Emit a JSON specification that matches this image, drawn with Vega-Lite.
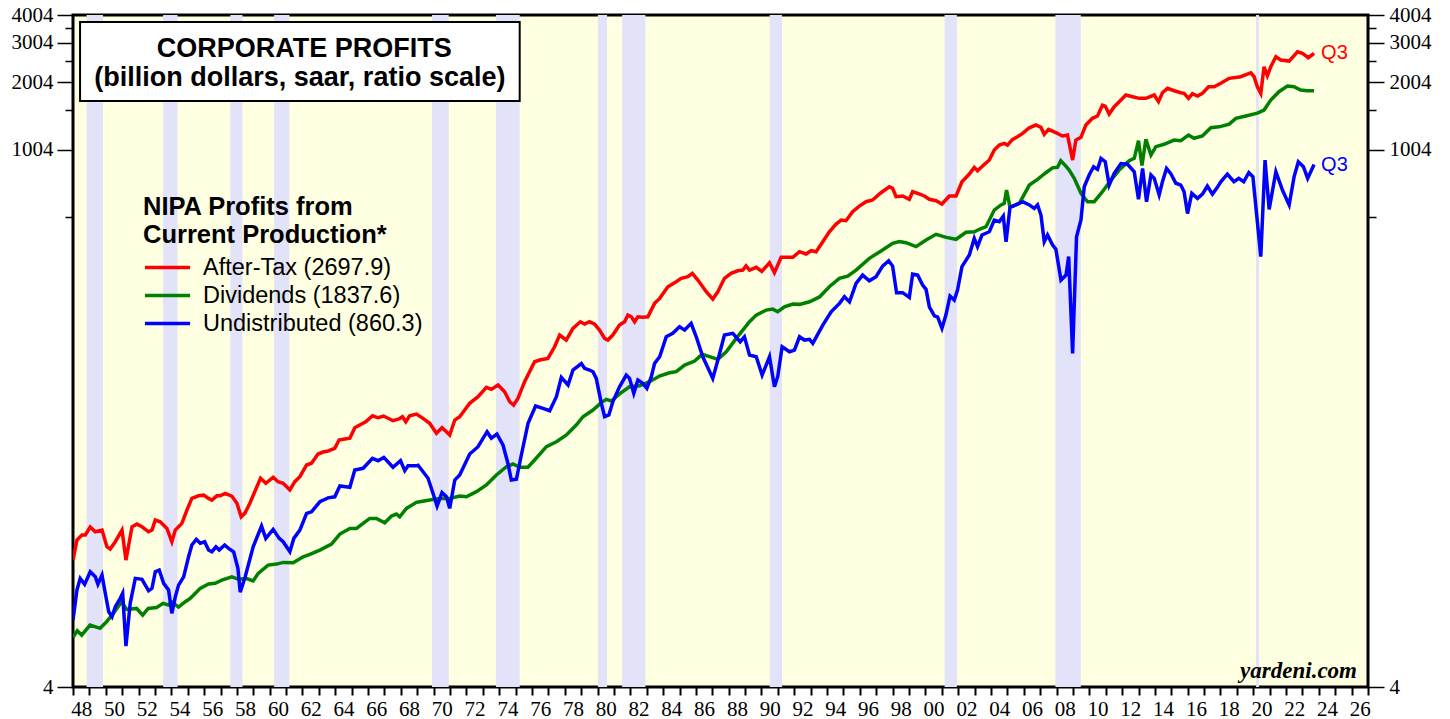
{
"$schema": "https://vega.github.io/schema/vega-lite/v6.json",
"width": 1295,
"height": 672,
"autosize": {"type": "none"},
"padding": {"left": 73, "top": 15, "right": 82, "bottom": 32},
"background": "white",
"usermeta": {"embedOptions": {"actions": false}},
"config": {"view": {"fill": "#FFFFE2", "stroke": "#000000", "strokeWidth": 3}, "font": "Liberation Sans"},
"datasets": {
"recessions": [
{"start": 1948.83, "end": 1949.83}, {"start": 1953.5, "end": 1954.38}, {"start": 1957.6, "end": 1958.34},
{"start": 1960.27, "end": 1961.2}, {"start": 1969.9, "end": 1970.92}, {"start": 1973.8, "end": 1975.25},
{"start": 1980.02, "end": 1980.58}, {"start": 1981.5, "end": 1982.92}, {"start": 1990.5, "end": 1991.25},
{"start": 2001.17, "end": 2001.92}, {"start": 2007.93, "end": 2009.48}, {"start": 2020.17, "end": 2020.35}
],
"profits": [
{"series":"A","year":1948.0,"value":14.75},{"series":"A","year":1948.24,"value":18.12},{"series":"A","year":1948.55,"value":19.07},{"series":"A","year":1948.75,"value":19.1},
{"series":"A","year":1949.05,"value":20.71},{"series":"A","year":1949.36,"value":19.73},{"series":"A","year":1949.77,"value":20.08},{"series":"A","year":1950.07,"value":16.91},
{"series":"A","year":1950.27,"value":16.52},{"series":"A","year":1950.58,"value":17.81},{"series":"A","year":1950.99,"value":20.08},{"series":"A","year":1951.23,"value":14.75},
{"series":"A","year":1951.6,"value":20.77},{"series":"A","year":1951.9,"value":21.35},{"series":"A","year":1952.21,"value":20.77},{"series":"A","year":1952.61,"value":19.73},
{"series":"A","year":1952.82,"value":20.08},{"series":"A","year":1953.02,"value":22.25},{"series":"A","year":1953.32,"value":21.87},{"series":"A","year":1953.73,"value":20.43},
{"series":"A","year":1954.03,"value":17.81},{"series":"A","year":1954.24,"value":20.08},{"series":"A","year":1954.64,"value":21.51},{"series":"A","year":1954.95,"value":24.66},
{"series":"A","year":1955.25,"value":27.81},{"series":"A","year":1955.66,"value":28.56},{"series":"A","year":1955.97,"value":28.75},{"series":"A","year":1956.27,"value":27.81},
{"series":"A","year":1956.47,"value":27.33},{"series":"A","year":1956.78,"value":28.56},{"series":"A","year":1956.98,"value":28.56},{"series":"A","year":1957.28,"value":29.27},
{"series":"A","year":1957.69,"value":28.47},{"series":"A","year":1958.0,"value":26.44},{"series":"A","year":1958.26,"value":23.0},{"series":"A","year":1958.48,"value":23.84},
{"series":"A","year":1958.79,"value":26.44},{"series":"A","year":1959.09,"value":29.8},{"series":"A","year":1959.44,"value":34.19},{"series":"A","year":1959.76,"value":32.48},
{"series":"A","year":1960.21,"value":34.54},{"series":"A","year":1960.51,"value":33.02},{"series":"A","year":1960.82,"value":32.48},{"series":"A","year":1961.23,"value":30.32},
{"series":"A","year":1961.53,"value":33.02},{"series":"A","year":1961.84,"value":34.76},{"series":"A","year":1962.25,"value":39.2},{"series":"A","year":1962.55,"value":39.9},
{"series":"A","year":1962.95,"value":43.89},{"series":"A","year":1963.26,"value":44.78},{"series":"A","year":1963.56,"value":45.27},{"series":"A","year":1963.97,"value":46.55},
{"series":"A","year":1964.23,"value":50.69},{"series":"A","year":1964.58,"value":51.2},{"series":"A","year":1964.89,"value":51.6},{"series":"A","year":1965.19,"value":57.5},
{"series":"A","year":1965.49,"value":59.1},{"series":"A","year":1965.86,"value":61.17},{"series":"A","year":1966.27,"value":65.05},{"series":"A","year":1966.61,"value":63.7},
{"series":"A","year":1966.95,"value":64.85},{"series":"A","year":1967.52,"value":61.8},{"series":"A","year":1967.89,"value":62.9},{"series":"A","year":1968.1,"value":64.4},
{"series":"A","year":1968.3,"value":61.17},{"series":"A","year":1968.54,"value":65.05},{"series":"A","year":1968.95,"value":66.2},{"series":"A","year":1969.35,"value":63.3},
{"series":"A","year":1969.76,"value":60.2},{"series":"A","year":1970.17,"value":54.3},{"series":"A","year":1970.51,"value":57.5},{"series":"A","year":1970.78,"value":55.2},
{"series":"A","year":1970.98,"value":53.36},{"series":"A","year":1971.29,"value":62.25},{"series":"A","year":1971.59,"value":64.4},{"series":"A","year":1972.2,"value":73.9},
{"series":"A","year":1972.71,"value":79.1},{"series":"A","year":1973.22,"value":87.1},{"series":"A","year":1973.52,"value":85.3},{"series":"A","year":1973.93,"value":89.2},
{"series":"A","year":1974.33,"value":83.3},{"series":"A","year":1974.64,"value":75.1},{"series":"A","year":1974.88,"value":72.6},{"series":"A","year":1975.14,"value":77.8},
{"series":"A","year":1975.55,"value":92.3},{"series":"A","year":1976.16,"value":113.3},{"series":"A","year":1976.47,"value":115.3},{"series":"A","year":1976.97,"value":117.3},
{"series":"A","year":1977.38,"value":132.2},{"series":"A","year":1977.69,"value":149.1},{"series":"A","year":1978.09,"value":141.6},{"series":"A","year":1978.5,"value":159.7},
{"series":"A","year":1978.95,"value":170.9},{"series":"A","year":1979.21,"value":166.9},{"series":"A","year":1979.51,"value":170.9},{"series":"A","year":1979.82,"value":166.9},
{"series":"A","year":1980.12,"value":156.9},{"series":"A","year":1980.43,"value":144.1},{"series":"A","year":1980.63,"value":141.6},{"series":"A","year":1980.93,"value":149.1},
{"series":"A","year":1981.34,"value":165.2},{"series":"A","year":1981.65,"value":170.9},{"series":"A","year":1981.85,"value":183.1},{"series":"A","year":1982.06,"value":179.9},
{"series":"A","year":1982.26,"value":170.9},{"series":"A","year":1982.46,"value":179.9},{"series":"A","year":1982.76,"value":178.9},{"series":"A","year":1983.07,"value":179.9},
{"series":"A","year":1983.48,"value":206.5},{"series":"A","year":1983.79,"value":217.4},{"series":"A","year":1984.29,"value":245.1},{"series":"A","year":1984.8,"value":258.0},
{"series":"A","year":1985.1,"value":267.1},{"series":"A","year":1985.51,"value":271.5},{"series":"A","year":1985.78,"value":281.2},{"series":"A","year":1986.12,"value":262.5},
{"series":"A","year":1986.63,"value":232.8},{"series":"A","year":1987.03,"value":215.8},{"series":"A","year":1987.34,"value":232.8},{"series":"A","year":1987.74,"value":267.1},
{"series":"A","year":1988.15,"value":281.2},{"series":"A","year":1988.55,"value":288.8},{"series":"A","year":1988.86,"value":290.9},{"series":"A","year":1989.06,"value":304.0},
{"series":"A","year":1989.27,"value":290.9},{"series":"A","year":1989.68,"value":299.2},{"series":"A","year":1990.02,"value":287.0},{"series":"A","year":1990.49,"value":313.6},
{"series":"A","year":1990.79,"value":283.0},{"series":"A","year":1991.2,"value":331.4},{"series":"A","year":1991.6,"value":331.4},{"series":"A","year":1991.91,"value":331.4},
{"series":"A","year":1992.32,"value":351.2},{"series":"A","year":1992.72,"value":343.1},{"series":"A","year":1993.03,"value":354.8},{"series":"A","year":1993.33,"value":351.2},
{"series":"A","year":1993.74,"value":389.2},{"series":"A","year":1994.14,"value":431.3},{"series":"A","year":1994.55,"value":466.9},{"series":"A","year":1994.86,"value":486.4},
{"series":"A","year":1995.16,"value":483.0},{"series":"A","year":1995.56,"value":529.7},{"series":"A","year":1995.97,"value":561.5},{"series":"A","year":1996.38,"value":587.3},
{"series":"A","year":1996.78,"value":597.6},{"series":"A","year":1997.29,"value":644.2},{"series":"A","year":1997.8,"value":685.0},{"series":"A","year":1998.0,"value":673.9},
{"series":"A","year":1998.21,"value":618.2},{"series":"A","year":1998.61,"value":623.0},{"series":"A","year":1999.02,"value":602},{"series":"A","year":1999.22,"value":650.7},
{"series":"A","year":1999.53,"value":640.2},{"series":"A","year":1999.94,"value":623.0},{"series":"A","year":2000.24,"value":602},{"series":"A","year":2000.65,"value":593.3},
{"series":"A","year":2001.01,"value":573.6},{"series":"A","year":2001.46,"value":623.0},{"series":"A","year":2001.87,"value":623.0},{"series":"A","year":2002.23,"value":721.2},
{"series":"A","year":2002.68,"value":780.4},{"series":"A","year":2002.98,"value":836.1},{"series":"A","year":2003.18,"value":807.5},{"series":"A","year":2003.49,"value":847.3},
{"series":"A","year":2003.9,"value":901.3},{"series":"A","year":2004.2,"value":999},{"series":"A","year":2004.51,"value":1051.6},{"series":"A","year":2004.81,"value":1070.2},
{"series":"A","year":2005.01,"value":1051.6},{"series":"A","year":2005.32,"value":1115},{"series":"A","year":2005.62,"value":1145},{"series":"A","year":2005.93,"value":1186},
{"series":"A","year":2006.34,"value":1256},{"series":"A","year":2006.74,"value":1292},{"series":"A","year":2007.05,"value":1261},{"series":"A","year":2007.25,"value":1174},
{"series":"A","year":2007.51,"value":1236},{"series":"A","year":2007.96,"value":1194},{"series":"A","year":2008.36,"value":1154},{"series":"A","year":2008.67,"value":1165},
{"series":"A","year":2008.98,"value":901},{"series":"A","year":2009.18,"value":1107},{"series":"A","year":2009.49,"value":1138},{"series":"A","year":2009.79,"value":1292},
{"series":"A","year":2010.19,"value":1384},{"series":"A","year":2010.5,"value":1417},{"series":"A","year":2010.8,"value":1586},{"series":"A","year":2010.97,"value":1570},
{"series":"A","year":2011.21,"value":1447},{"series":"A","year":2011.52,"value":1559},{"series":"A","year":2011.93,"value":1671},{"series":"A","year":2012.23,"value":1759},
{"series":"A","year":2012.64,"value":1728},{"series":"A","year":2013.04,"value":1700},{"series":"A","year":2013.45,"value":1700},{"series":"A","year":2013.96,"value":1759},
{"series":"A","year":2014.22,"value":1643},{"series":"A","year":2014.46,"value":1801},{"series":"A","year":2014.77,"value":1884},{"series":"A","year":2015.18,"value":1838},
{"series":"A","year":2015.58,"value":1801},{"series":"A","year":2015.78,"value":1789},{"series":"A","year":2016.05,"value":1700},{"series":"A","year":2016.29,"value":1782},
{"series":"A","year":2016.6,"value":1741},{"series":"A","year":2016.9,"value":1789},{"series":"A","year":2017.27,"value":1915},{"series":"A","year":2017.61,"value":1915},
{"series":"A","year":2018.02,"value":1984},{"series":"A","year":2018.53,"value":2088},{"series":"A","year":2019.24,"value":2123},{"series":"A","year":2019.64,"value":2182},
{"series":"A","year":2019.85,"value":2211},{"series":"A","year":2020.05,"value":2123},{"series":"A","year":2020.25,"value":1915},{"series":"A","year":2020.46,"value":1789},
{"series":"A","year":2020.66,"value":2352},{"series":"A","year":2020.86,"value":2144},{"series":"A","year":2021.07,"value":2352},{"series":"A","year":2021.38,"value":2607},
{"series":"A","year":2021.68,"value":2520},{"series":"A","year":2022.19,"value":2494},{"series":"A","year":2022.7,"value":2745},{"series":"A","year":2023.0,"value":2700},
{"series":"A","year":2023.36,"value":2581},{"series":"A","year":2023.71,"value":2697.9},
{"series":"D","year":1948.0,"value":6.66},{"series":"D","year":1948.26,"value":7.13},{"series":"D","year":1948.53,"value":6.82},{"series":"D","year":1949.04,"value":7.56},
{"series":"D","year":1949.65,"value":7.31},{"series":"D","year":1950.05,"value":7.82},{"series":"D","year":1950.46,"value":8.53},{"series":"D","year":1950.97,"value":9.61},
{"series":"D","year":1951.27,"value":8.88},{"series":"D","year":1951.88,"value":8.97},{"series":"D","year":1952.25,"value":8.38},{"series":"D","year":1952.59,"value":8.97},
{"series":"D","year":1953.1,"value":9.06},{"series":"D","year":1953.5,"value":9.45},{"series":"D","year":1953.81,"value":9.29},{"series":"D","year":1954.02,"value":9.61},
{"series":"D","year":1954.44,"value":9.1},{"series":"D","year":1954.85,"value":9.61},{"series":"D","year":1955.15,"value":9.95},{"series":"D","year":1955.36,"value":10.3},
{"series":"D","year":1955.76,"value":11.03},{"series":"D","year":1956.27,"value":11.53},{"series":"D","year":1956.67,"value":11.61},{"series":"D","year":1957.08,"value":12.01},
{"series":"D","year":1957.69,"value":12.42},{"series":"D","year":1958.1,"value":12.1},{"series":"D","year":1958.59,"value":12.2},{"series":"D","year":1958.99,"value":11.9},
{"series":"D","year":1959.3,"value":12.87},{"series":"D","year":1959.9,"value":14.01},{"series":"D","year":1960.42,"value":14.15},{"series":"D","year":1960.82,"value":14.4},
{"series":"D","year":1961.43,"value":14.35},{"series":"D","year":1962.04,"value":15.26},{"series":"D","year":1962.45,"value":15.64},{"series":"D","year":1963.06,"value":16.35},
{"series":"D","year":1963.77,"value":17.39},{"series":"D","year":1964.28,"value":19.27},{"series":"D","year":1964.89,"value":20.43},{"series":"D","year":1965.29,"value":20.43},
{"series":"D","year":1966.1,"value":22.64},{"series":"D","year":1966.51,"value":22.64},{"series":"D","year":1967.02,"value":21.64},{"series":"D","year":1967.43,"value":23.18},
{"series":"D","year":1967.73,"value":23.66},{"series":"D","year":1967.93,"value":23.0},{"series":"D","year":1968.34,"value":25.09},{"series":"D","year":1968.95,"value":26.7},
{"series":"D","year":1969.15,"value":26.86},{"series":"D","year":1969.76,"value":27.33},{"series":"D","year":1970.37,"value":27.81},{"series":"D","year":1970.98,"value":27.81},
{"series":"D","year":1971.59,"value":28.47},{"series":"D","year":1972.0,"value":28.27},{"series":"D","year":1972.61,"value":29.8},{"series":"D","year":1973.22,"value":31.92},
{"series":"D","year":1973.83,"value":35.37},{"series":"D","year":1974.44,"value":38.52},{"series":"D","year":1974.84,"value":39.59},{"series":"D","year":1975.25,"value":38.3},
{"series":"D","year":1975.75,"value":38.3},{"series":"D","year":1976.16,"value":41.27},{"series":"D","year":1976.88,"value":47.31},{"series":"D","year":1977.49,"value":49.8},
{"series":"D","year":1978.1,"value":53.36},{"series":"D","year":1978.7,"value":59.1},{"series":"D","year":1979.11,"value":64.4},{"series":"D","year":1979.72,"value":68.99},
{"series":"D","year":1980.23,"value":74.4},{"series":"D","year":1980.53,"value":77.0},{"series":"D","year":1980.84,"value":75.7},{"series":"D","year":1981.34,"value":81.4},
{"series":"D","year":1981.95,"value":87.6},{"series":"D","year":1982.56,"value":88.5},{"series":"D","year":1983.17,"value":92.3},{"series":"D","year":1983.78,"value":97.8},
{"series":"D","year":1984.39,"value":101.2},{"series":"D","year":1984.8,"value":102.3},{"series":"D","year":1985.31,"value":109.5},{"series":"D","year":1985.92,"value":114.1},
{"series":"D","year":1986.38,"value":122.3},{"series":"D","year":1986.83,"value":119.4},{"series":"D","year":1987.34,"value":116.1},{"series":"D","year":1987.85,"value":125.6},
{"series":"D","year":1988.46,"value":144.1},{"series":"D","year":1989.27,"value":170.9},{"series":"D","year":1989.68,"value":183.1},{"series":"D","year":1990.28,"value":192.7},
{"series":"D","year":1990.69,"value":194.7},{"series":"D","year":1990.99,"value":189.4},{"series":"D","year":1991.4,"value":199.3},{"series":"D","year":1991.91,"value":205.0},
{"series":"D","year":1992.32,"value":204.4},{"series":"D","year":1992.93,"value":210.0},{"series":"D","year":1993.54,"value":220.6},{"series":"D","year":1994.14,"value":245.1},
{"series":"D","year":1994.75,"value":267.1},{"series":"D","year":1995.26,"value":273.2},{"series":"D","year":1995.77,"value":290.9},{"series":"D","year":1996.58,"value":328.1},
{"series":"D","year":1997.39,"value":357.4},{"series":"D","year":1998.0,"value":382.9},{"series":"D","year":1998.41,"value":390},{"series":"D","year":1998.82,"value":385.5},
{"series":"D","year":1999.43,"value":370},{"series":"D","year":2000.04,"value":396.1},{"series":"D","year":2000.65,"value":420},{"series":"D","year":2001.27,"value":407},
{"series":"D","year":2001.87,"value":399},{"series":"D","year":2002.48,"value":428.8},{"series":"D","year":2002.99,"value":431.4},{"series":"D","year":2003.29,"value":442.3},
{"series":"D","year":2003.7,"value":454.4},{"series":"D","year":2004.2,"value":539},{"series":"D","year":2004.61,"value":568.3},{"series":"D","year":2004.81,"value":577.6},
{"series":"D","year":2004.95,"value":662.2},{"series":"D","year":2005.16,"value":556},{"series":"D","year":2005.73,"value":577.6},{"series":"D","year":2006.34,"value":697},
{"series":"D","year":2006.84,"value":739.2},{"series":"D","year":2007.35,"value":791},{"series":"D","year":2007.75,"value":832},{"series":"D","year":2008.06,"value":836},
{"series":"D","year":2008.26,"value":895},{"series":"D","year":2008.57,"value":847},{"series":"D","year":2008.77,"value":813},{"series":"D","year":2009.08,"value":747},
{"series":"D","year":2009.49,"value":640.2},{"series":"D","year":2009.89,"value":587.3},{"series":"D","year":2010.3,"value":587.3},{"series":"D","year":2010.8,"value":650.7},
{"series":"D","year":2011.32,"value":733.9},{"series":"D","year":2011.82,"value":813.3},{"series":"D","year":2012.43,"value":895},{"series":"D","year":2012.74,"value":917},
{"series":"D","year":2013.0,"value":1099},{"series":"D","year":2013.21,"value":852},{"series":"D","year":2013.45,"value":1115},{"series":"D","year":2013.76,"value":949},
{"series":"D","year":2014.06,"value":1034},{"series":"D","year":2014.56,"value":1060},{"series":"D","year":2015.17,"value":1107},{"series":"D","year":2015.58,"value":1099},
{"series":"D","year":2016.05,"value":1165},{"series":"D","year":2016.39,"value":1127},{"series":"D","year":2016.9,"value":1154},{"series":"D","year":2017.41,"value":1256},
{"series":"D","year":2017.92,"value":1268},{"series":"D","year":2018.53,"value":1304},{"series":"D","year":2018.94,"value":1384},{"series":"D","year":2019.55,"value":1418},
{"series":"D","year":2020.25,"value":1460},{"series":"D","year":2020.66,"value":1507},{"series":"D","year":2021.07,"value":1671},{"series":"D","year":2021.57,"value":1820},
{"series":"D","year":2022.08,"value":1928},{"series":"D","year":2022.49,"value":1915},{"series":"D","year":2022.89,"value":1851},{"series":"D","year":2023.3,"value":1838},
{"series":"D","year":2023.71,"value":1837.6},
{"series":"U","year":1948.0,"value":7.96},{"series":"U","year":1948.24,"value":10.84},{"series":"U","year":1948.44,"value":12.22},{"series":"U","year":1948.71,"value":11.49},
{"series":"U","year":1949.05,"value":13.08},{"series":"U","year":1949.36,"value":12.42},{"series":"U","year":1949.52,"value":11.5},{"series":"U","year":1949.77,"value":12.64},
{"series":"U","year":1949.97,"value":10.48},{"series":"U","year":1950.18,"value":8.67},{"series":"U","year":1950.38,"value":8.24},{"series":"U","year":1950.58,"value":9.13},
{"series":"U","year":1950.88,"value":9.95},{"series":"U","year":1951.03,"value":10.48},{"series":"U","year":1951.23,"value":6.09},{"series":"U","year":1951.49,"value":9.45},
{"series":"U","year":1951.8,"value":12.22},{"series":"U","year":1952.21,"value":12.1},{"series":"U","year":1952.61,"value":10.76},{"series":"U","year":1952.82,"value":11.03},
{"series":"U","year":1953.02,"value":13.08},{"series":"U","year":1953.26,"value":13.31},{"series":"U","year":1953.53,"value":11.61},{"series":"U","year":1953.83,"value":10.84},
{"series":"U","year":1954.03,"value":8.53},{"series":"U","year":1954.24,"value":10.11},{"series":"U","year":1954.44,"value":11.4},{"series":"U","year":1954.75,"value":12.42},
{"series":"U","year":1955.05,"value":15.26},{"series":"U","year":1955.25,"value":17.22},{"series":"U","year":1955.52,"value":18.25},{"series":"U","year":1955.76,"value":17.52},
{"series":"U","year":1956.03,"value":17.81},{"series":"U","year":1956.27,"value":16.35},{"series":"U","year":1956.47,"value":16.07},{"series":"U","year":1956.72,"value":16.91},
{"series":"U","year":1956.92,"value":16.35},{"series":"U","year":1957.25,"value":17.22},{"series":"U","year":1957.49,"value":16.64},{"series":"U","year":1957.8,"value":16.07},
{"series":"U","year":1958.06,"value":13.54},{"series":"U","year":1958.2,"value":10.6},{"series":"U","year":1958.5,"value":12.4},{"series":"U","year":1958.99,"value":16.91},
{"series":"U","year":1959.5,"value":20.92},{"series":"U","year":1959.76,"value":18.43},{"series":"U","year":1960.21,"value":20.22},{"series":"U","year":1960.58,"value":18.43},
{"series":"U","year":1960.82,"value":17.81},{"series":"U","year":1961.23,"value":16.07},{"series":"U","year":1961.47,"value":18.43},{"series":"U","year":1961.84,"value":20.08},
{"series":"U","year":1962.25,"value":23.84},{"series":"U","year":1962.55,"value":24.23},{"series":"U","year":1963.06,"value":26.86},{"series":"U","year":1963.56,"value":27.97},
{"series":"U","year":1963.97,"value":28.27},{"series":"U","year":1964.28,"value":31.6},{"series":"U","year":1964.89,"value":31.17},{"series":"U","year":1965.19,"value":37.24},
{"series":"U","year":1965.7,"value":37.9},{"series":"U","year":1966.27,"value":42.0},{"series":"U","year":1966.61,"value":40.97},{"series":"U","year":1966.96,"value":42.4},
{"series":"U","year":1967.52,"value":38.3},{"series":"U","year":1967.98,"value":40.97},{"series":"U","year":1968.24,"value":36.98},{"series":"U","year":1968.44,"value":38.85},
{"series":"U","year":1968.95,"value":38.85},{"series":"U","year":1969.05,"value":39.1},{"series":"U","year":1969.66,"value":34.19},{"series":"U","year":1969.96,"value":29.3},
{"series":"U","year":1970.21,"value":25.69},{"series":"U","year":1970.51,"value":29.5},{"series":"U","year":1970.78,"value":28.27},{"series":"U","year":1970.98,"value":25.09},
{"series":"U","year":1971.29,"value":33.6},{"series":"U","year":1971.59,"value":35.37},{"series":"U","year":1972.2,"value":43.89},{"series":"U","year":1972.71,"value":47.3},
{"series":"U","year":1973.26,"value":55.2},{"series":"U","year":1973.52,"value":51.6},{"series":"U","year":1973.86,"value":53.9},{"series":"U","year":1974.23,"value":48.15},
{"series":"U","year":1974.53,"value":39.9},{"series":"U","year":1974.74,"value":33.6},{"series":"U","year":1975.05,"value":33.84},{"series":"U","year":1975.35,"value":43.45},
{"series":"U","year":1975.76,"value":60.2},{"series":"U","year":1976.22,"value":71.9},{"series":"U","year":1976.67,"value":70.2},{"series":"U","year":1977.08,"value":68.5},
{"series":"U","year":1977.49,"value":79.1},{"series":"U","year":1977.79,"value":96.5},{"series":"U","year":1978.2,"value":89.2},{"series":"U","year":1978.5,"value":104.05},
{"series":"U","year":1979.01,"value":111.2},{"series":"U","year":1979.21,"value":105.9},{"series":"U","year":1979.51,"value":104.05},{"series":"U","year":1979.72,"value":102.3},
{"series":"U","year":1979.92,"value":95.5},{"series":"U","year":1980.23,"value":73.9},{"series":"U","year":1980.43,"value":64.4},{"series":"U","year":1980.69,"value":65.6},
{"series":"U","year":1980.93,"value":75.1},{"series":"U","year":1981.34,"value":87.6},{"series":"U","year":1981.75,"value":98.8},{"series":"U","year":1981.95,"value":95.5},
{"series":"U","year":1982.21,"value":81.9},{"series":"U","year":1982.46,"value":93.9},{"series":"U","year":1982.76,"value":90.8},{"series":"U","year":1983.01,"value":86.2},
{"series":"U","year":1983.28,"value":97.2},{"series":"U","year":1983.48,"value":111.5},{"series":"U","year":1983.79,"value":119.3},{"series":"U","year":1984.19,"value":146.5},
{"series":"U","year":1984.59,"value":151.7},{"series":"U","year":1985.0,"value":162.3},{"series":"U","year":1985.31,"value":156.9},{"series":"U","year":1985.71,"value":168.1},
{"series":"U","year":1986.02,"value":146.5},{"series":"U","year":1986.42,"value":119.3},{"series":"U","year":1987.03,"value":95.5},{"series":"U","year":1987.34,"value":115.3},
{"series":"U","year":1987.74,"value":149.1},{"series":"U","year":1988.25,"value":151.7},{"series":"U","year":1988.7,"value":139.2},{"series":"U","year":1988.96,"value":146.5},
{"series":"U","year":1989.27,"value":121.4},{"series":"U","year":1989.68,"value":119.3},{"series":"U","year":1990.04,"value":98.8},{"series":"U","year":1990.49,"value":119.3},
{"series":"U","year":1990.79,"value":87.6},{"series":"U","year":1990.99,"value":97.2},{"series":"U","year":1991.26,"value":132.2},{"series":"U","year":1991.71,"value":125.6},
{"series":"U","year":1992.01,"value":127.8},{"series":"U","year":1992.32,"value":146.5},{"series":"U","year":1992.62,"value":141.6},{"series":"U","year":1992.93,"value":142.6},
{"series":"U","year":1993.13,"value":136.9},{"series":"U","year":1993.74,"value":165.2},{"series":"U","year":1994.25,"value":189.4},{"series":"U","year":1994.76,"value":206.5},
{"series":"U","year":1995.06,"value":221.1},{"series":"U","year":1995.37,"value":209.7},{"series":"U","year":1995.77,"value":253.7},{"series":"U","year":1996.17,"value":276.3},
{"series":"U","year":1996.58,"value":260.6},{"series":"U","year":1996.99,"value":271.5},{"series":"U","year":1997.39,"value":303},{"series":"U","year":1997.76,"value":320.1},
{"series":"U","year":1998.0,"value":303},{"series":"U","year":1998.24,"value":230.6},{"series":"U","year":1998.61,"value":230.6},{"series":"U","year":1999.02,"value":219.6},
{"series":"U","year":1999.22,"value":278.8},{"series":"U","year":1999.53,"value":276},{"series":"U","year":1999.83,"value":249.4},{"series":"U","year":2000.04,"value":238.6},
{"series":"U","year":2000.24,"value":199.4},{"series":"U","year":2000.55,"value":181.6},{"series":"U","year":2000.75,"value":179.2},{"series":"U","year":2001.01,"value":159.7},
{"series":"U","year":2001.25,"value":183.1},{"series":"U","year":2001.5,"value":222.6},{"series":"U","year":2001.76,"value":213.6},{"series":"U","year":2001.96,"value":236.9},
{"series":"U","year":2002.23,"value":301.2},{"series":"U","year":2002.68,"value":339.5},{"series":"U","year":2002.98,"value":403},{"series":"U","year":2003.18,"value":369.8},
{"series":"U","year":2003.45,"value":417},{"series":"U","year":2003.9,"value":431.3},{"series":"U","year":2004.2,"value":486.4},{"series":"U","year":2004.51,"value":478.3},
{"series":"U","year":2004.75,"value":506.8},{"series":"U","year":2004.92,"value":389.2},{"series":"U","year":2005.16,"value":554},{"series":"U","year":2005.52,"value":568.3},
{"series":"U","year":2005.93,"value":587.3},{"series":"U","year":2006.34,"value":568.3},{"series":"U","year":2006.64,"value":548.4},{"series":"U","year":2006.84,"value":568.3},
{"series":"U","year":2007.05,"value":512},{"series":"U","year":2007.25,"value":389.2},{"series":"U","year":2007.45,"value":417},{"series":"U","year":2007.76,"value":376.3},
{"series":"U","year":2007.96,"value":360},{"series":"U","year":2008.27,"value":262.5},{"series":"U","year":2008.58,"value":276.3},{"series":"U","year":2008.74,"value":334},
{"series":"U","year":2008.98,"value":123.5},{"series":"U","year":2009.22,"value":409.7},{"series":"U","year":2009.49,"value":486.4},{"series":"U","year":2009.69,"value":685},
{"series":"U","year":2009.99,"value":772.7},{"series":"U","year":2010.26,"value":841.4},{"series":"U","year":2010.5,"value":819},{"series":"U","year":2010.71,"value":917},
{"series":"U","year":2010.97,"value":886},{"series":"U","year":2011.21,"value":697},{"series":"U","year":2011.52,"value":786},{"series":"U","year":2011.93,"value":870},
{"series":"U","year":2012.33,"value":863.5},{"series":"U","year":2012.74,"value":799},{"series":"U","year":2013.0,"value":602},{"series":"U","year":2013.25,"value":827},
{"series":"U","year":2013.49,"value":587.3},{"series":"U","year":2013.76,"value":772.7},{"series":"U","year":2013.96,"value":747},{"series":"U","year":2014.26,"value":630},
{"series":"U","year":2014.46,"value":721},{"series":"U","year":2014.71,"value":827},{"series":"U","year":2014.97,"value":784},{"series":"U","year":2015.28,"value":710},
{"series":"U","year":2015.58,"value":697},{"series":"U","year":2015.78,"value":651},{"series":"U","year":2015.99,"value":520},{"series":"U","year":2016.25,"value":640},
{"series":"U","year":2016.6,"value":608},{"series":"U","year":2016.9,"value":635},{"series":"U","year":2017.2,"value":690},{"series":"U","year":2017.51,"value":635},
{"series":"U","year":2017.81,"value":681},{"series":"U","year":2018.02,"value":721},{"series":"U","year":2018.42,"value":780},{"series":"U","year":2018.82,"value":721},
{"series":"U","year":2019.12,"value":747},{"series":"U","year":2019.42,"value":721},{"series":"U","year":2019.73,"value":792},{"series":"U","year":2019.98,"value":758},
{"series":"U","year":2020.46,"value":334},{"series":"U","year":2020.72,"value":901},{"series":"U","year":2020.97,"value":543},{"series":"U","year":2021.38,"value":799},
{"series":"U","year":2021.78,"value":662},{"series":"U","year":2022.19,"value":568},{"series":"U","year":2022.49,"value":758},{"series":"U","year":2022.75,"value":886},
{"series":"U","year":2023.06,"value":842},{"series":"U","year":2023.32,"value":746},{"series":"U","year":2023.71,"value":860.3}
],
"ends": [
{"series": "A", "year": 2023.71, "value": 2697.9, "label": "Q3"},
{"series": "U", "year": 2023.71, "value": 860.3, "label": "Q3"}
],
"titlebox": [{"x1": 1948.43, "x2": 1975.25, "y1": 1653, "y2": 3726}],
"titletext": [
{"text": "CORPORATE PROFITS", "year": 1962.1, "value": 2830},
{"text": "(billion dollars, saar, ratio scale)", "year": 1961.84, "value": 2100}
],
"source": [{"text": "yardeni.com", "year": 2026.33, "value": 4.39}]
},
"resolve": {"scale": {"x": "shared", "y": "shared", "color": "shared"}, "axis": {"x": "independent", "y": "independent"}},
"layer": [
{
"data": {"name": "recessions"},
"mark": {"type": "rect", "color": "#E2E2F9"},
"encoding": {
"x": {"field": "start", "type": "quantitative",
"scale": {"domain": [1948, 2027], "nice": false, "zero": false},
"axis": {"orient": "bottom", "values": [1948,1949,1950,1951,1952,1953,1954,1955,1956,1957,1958,1959,1960,1961,1962,1963,1964,1965,1966,1967,1968,1969,1970,1971,1972,1973,1974,1975,1976,1977,1978,1979,1980,1981,1982,1983,1984,1985,1986,1987,1988,1989,1990,1991,1992,1993,1994,1995,1996,1997,1998,1999,2000,2001,2002,2003,2004,2005,2006,2007,2008,2009,2010,2011,2012,2013,2014,2015,2016,2017,2018,2019,2020,2021,2022,2023,2024,2025,2026,2027],
"labels": false, "tickSize": 8, "tickWidth": 2, "tickColor": "#000000", "domain": false, "grid": false, "title": null}},
"x2": {"field": "end"}
}
},
{
"data": {"name": "profits"},
"mark": {"type": "line", "strokeWidth": 3.5, "clip": true},
"encoding": {
"x": {"field": "year", "type": "quantitative",
"scale": {"domain": [1948, 2027], "nice": false, "zero": false},
"axis": {"orient": "bottom", "values": [1948.5,1950.5,1952.5,1954.5,1956.5,1958.5,1960.5,1962.5,1964.5,1966.5,1968.5,1970.5,1972.5,1974.5,1976.5,1978.5,1980.5,1982.5,1984.5,1986.5,1988.5,1990.5,1992.5,1994.5,1996.5,1998.5,2000.5,2002.5,2004.5,2006.5,2008.5,2010.5,2012.5,2014.5,2016.5,2018.5,2020.5,2022.5,2024.5,2026.5],
"ticks": false, "tickSize": 0, "domain": false, "grid": false, "title": null,
"labelExpr": "substring(toString(floor(datum.value)), 2, 4)",
"labelFont": "Liberation Serif", "labelFontSize": 21, "labelColor": "#000000", "labelPadding": 11,
"labelOverlap": false, "labelFlush": false, "labelBound": false}},
"y": {"field": "value", "type": "quantitative",
"scale": {"type": "log", "domain": [4, 4004], "nice": false},
"axis": {"orient": "left", "values": [4, 1004, 2004, 3004, 4004], "format": "d",
"tickSize": 16, "tickWidth": 1.5, "tickColor": "#000000", "domain": false, "grid": false, "title": null,
"labelFont": "Liberation Serif", "labelFontSize": 21, "labelColor": "#000000", "labelPadding": 4,
"labelOverlap": false, "labelFlush": false}},
"color": {"field": "series", "type": "nominal",
"scale": {"domain": ["A", "D", "U"], "range": ["#FF0000", "#008000", "#0000FF"]},
"legend": {"orient": "none", "legendX": 70, "legendY": 180,
"title": ["NIPA Profits from", "Current Production*"],
"titleFont": "Liberation Sans", "titleFontSize": 25.5, "titleFontWeight": "bold", "titleColor": "#000000",
"titleLineHeight": 28, "titlePadding": 6, "titleLimit": 500,
"labelFont": "Liberation Sans", "labelFontSize": 23.5, "labelColor": "#000000", "labelLimit": 500,
"labelExpr": "datum.label == 'A' ? 'After-Tax (2697.9)' : datum.label == 'D' ? 'Dividends (1837.6)' : 'Undistributed (860.3)'",
"symbolType": "M-1,0H3.1", "symbolSize": 484, "symbolStrokeWidth": 3.5, "symbolFillColor": "transparent",
"labelOffset": 34, "rowPadding": 3, "padding": 0}}
}
},
{
"data": {"name": "titlebox"},
"mark": {"type": "rect", "fill": "#FFFFFF", "stroke": "#000000", "strokeWidth": 2},
"encoding": {
"x": {"field": "x1", "type": "quantitative", "axis": null},
"x2": {"field": "x2"},
"y": {"field": "y1", "type": "quantitative",
"axis": {"orient": "left", "values": [504, 1504, 2504, 3504], "labels": false,
"tickSize": 8, "tickWidth": 1.5, "tickColor": "#000000", "domain": false, "grid": false, "title": null}},
"y2": {"field": "y2"}
}
},
{
"data": {"name": "titletext"},
"mark": {"type": "text", "font": "Liberation Sans", "fontSize": 27, "fontWeight": "bold", "align": "center", "baseline": "middle", "color": "#000000"},
"encoding": {
"x": {"field": "year", "type": "quantitative", "axis": null},
"y": {"field": "value", "type": "quantitative", "axis": null},
"text": {"field": "text"}
}
},
{
"data": {"name": "ends"},
"mark": {"type": "text", "font": "Liberation Sans", "fontSize": 20, "align": "left", "baseline": "middle", "dx": 7},
"encoding": {
"x": {"field": "year", "type": "quantitative", "axis": null},
"y": {"field": "value", "type": "quantitative",
"axis": {"orient": "right", "values": [4, 1004, 2004, 3004, 4004], "format": "d",
"tickSize": 16, "tickWidth": 1.5, "tickColor": "#000000", "domain": false, "grid": false, "title": null,
"labelFont": "Liberation Serif", "labelFontSize": 21, "labelColor": "#000000", "labelPadding": 5,
"labelOverlap": false, "labelFlush": false}},
"color": {"field": "series", "type": "nominal", "legend": null},
"text": {"field": "label"}
}
},
{
"data": {"name": "source"},
"mark": {"type": "text", "font": "Liberation Serif", "fontSize": 23, "fontStyle": "italic", "fontWeight": "bold", "align": "right", "baseline": "alphabetic", "color": "#000000"},
"encoding": {
"x": {"field": "year", "type": "quantitative", "axis": null},
"y": {"field": "value", "type": "quantitative",
"axis": {"orient": "right", "values": [504, 1504, 2504, 3504], "labels": false,
"tickSize": 8, "tickWidth": 1.5, "tickColor": "#000000", "domain": false, "grid": false, "title": null}},
"text": {"field": "text"}
}
}
]
}
